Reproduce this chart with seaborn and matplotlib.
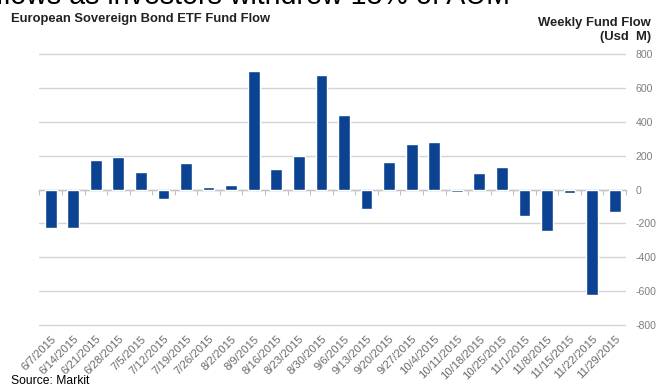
import matplotlib
matplotlib.use("Agg")
import matplotlib.pyplot as plt
import seaborn as sns
import pandas as pd
import numpy as np

weeks = ["6/7/2015", "6/14/2015", "6/21/2015", "6/28/2015", "7/5/2015", "7/12/2015",
         "7/19/2015", "7/26/2015", "8/2/2015", "8/9/2015", "8/16/2015", "8/23/2015",
         "8/30/2015", "9/6/2015", "9/13/2015", "9/20/2015", "9/27/2015", "10/4/2015",
         "10/11/2015", "10/18/2015", "10/25/2015", "11/1/2015", "11/8/2015",
         "11/15/2015", "11/22/2015", "11/29/2015"]
flows = [-225, -230, 173, 190, 102, -55, 155, 16, 27, 698, 122, 196, 674,
         441, -114, 161, 270, 278, -15, 98, 133, -159, -247, -20, -621, -131]
y_ticks = [-800, -600, -400, -200, 0, 200, 400, 600, 800]

sns.set_theme(style="white")
plt.rcParams['font.family'] = ['Liberation Sans', 'DejaVu Sans']
plt.rcParams['axes.unicode_minus'] = False

df = pd.DataFrame({"week": weeks, "flow": flows})

fig = plt.figure(figsize=(6.59, 3.87), dpi=100)
W, H = 659, 387
left, right = 39.4, 626.0
top_px, bot_px = 50.6, 328.4
ax = fig.add_axes([left / W, 1 - bot_px / H, (right - left) / W, (bot_px - top_px) / H])

sns.barplot(data=df, x="week", y="flow", color="#0B4291", saturation=1,
            width=0.52, ax=ax, zorder=3)

ax.set_ylim(-820, 820)
ax.set_xlim(-0.5, len(weeks) - 0.5)
ax.set_yticks(y_ticks)
ax.yaxis.tick_right()
ax.tick_params(axis='y', length=0, pad=7, labelsize=7.6, labelcolor="#7f7f7f")
for lab in ax.get_yticklabels():
    lab.set_horizontalalignment('left')
ax.grid(axis='y', color="#d4d4d4", linewidth=1.0, zorder=0)
ax.set_axisbelow(True)
for s in ax.spines.values():
    s.set_visible(False)
ax.set_xlabel("")
ax.set_ylabel("")

# zero line (bottom spine moved to y=0) with category-boundary ticks
ax.spines['bottom'].set_visible(True)
ax.spines['bottom'].set_position(('data', 0))
ax.spines['bottom'].set_color("#c4c4c4")
ax.spines['bottom'].set_linewidth(1.0)
ax.set_xticks(np.arange(len(weeks) + 1) - 0.5)
ax.tick_params(axis='x', bottom=True, length=3.5, width=0.8, color="#c0c0c0",
               labelbottom=False, direction='out')

# category labels along the bottom edge
sec = ax.secondary_xaxis(0)
sec.spines['bottom'].set_visible(False)
sec.set_xticks(range(len(weeks)))
sec.set_xticklabels(weeks, rotation=45, ha='right', rotation_mode='anchor',
                    fontsize=8.1, color="#6a6a6a")
sec.tick_params(axis='x', bottom=False, length=0, pad=4)

fig.text(-0.006, 1 - 4 / H, "flows as investors withdrew 13% of AUM", fontsize=20.6,
         color="black", ha='left', va='baseline')
fig.text(11 / W, 1 - 19 / H, "European Sovereign Bond ETF Fund Flow", fontsize=9.4,
         fontweight='bold', color="#222222", ha='left', va='center')
fig.text(651 / W, 1 - 23 / H, "Weekly Fund Flow", fontsize=9.4, fontweight='bold',
         color="#222222", ha='right', va='center')
fig.text(651 / W, 1 - 37 / H, "(Usd  M)", fontsize=9.4, fontweight='bold',
         color="#222222", ha='right', va='center')
fig.text(11 / W, 1 - 381 / H, "Source: Markit", fontsize=8.7, color="black",
         ha='left', va='center')

fig.savefig("out.png", dpi=100)
